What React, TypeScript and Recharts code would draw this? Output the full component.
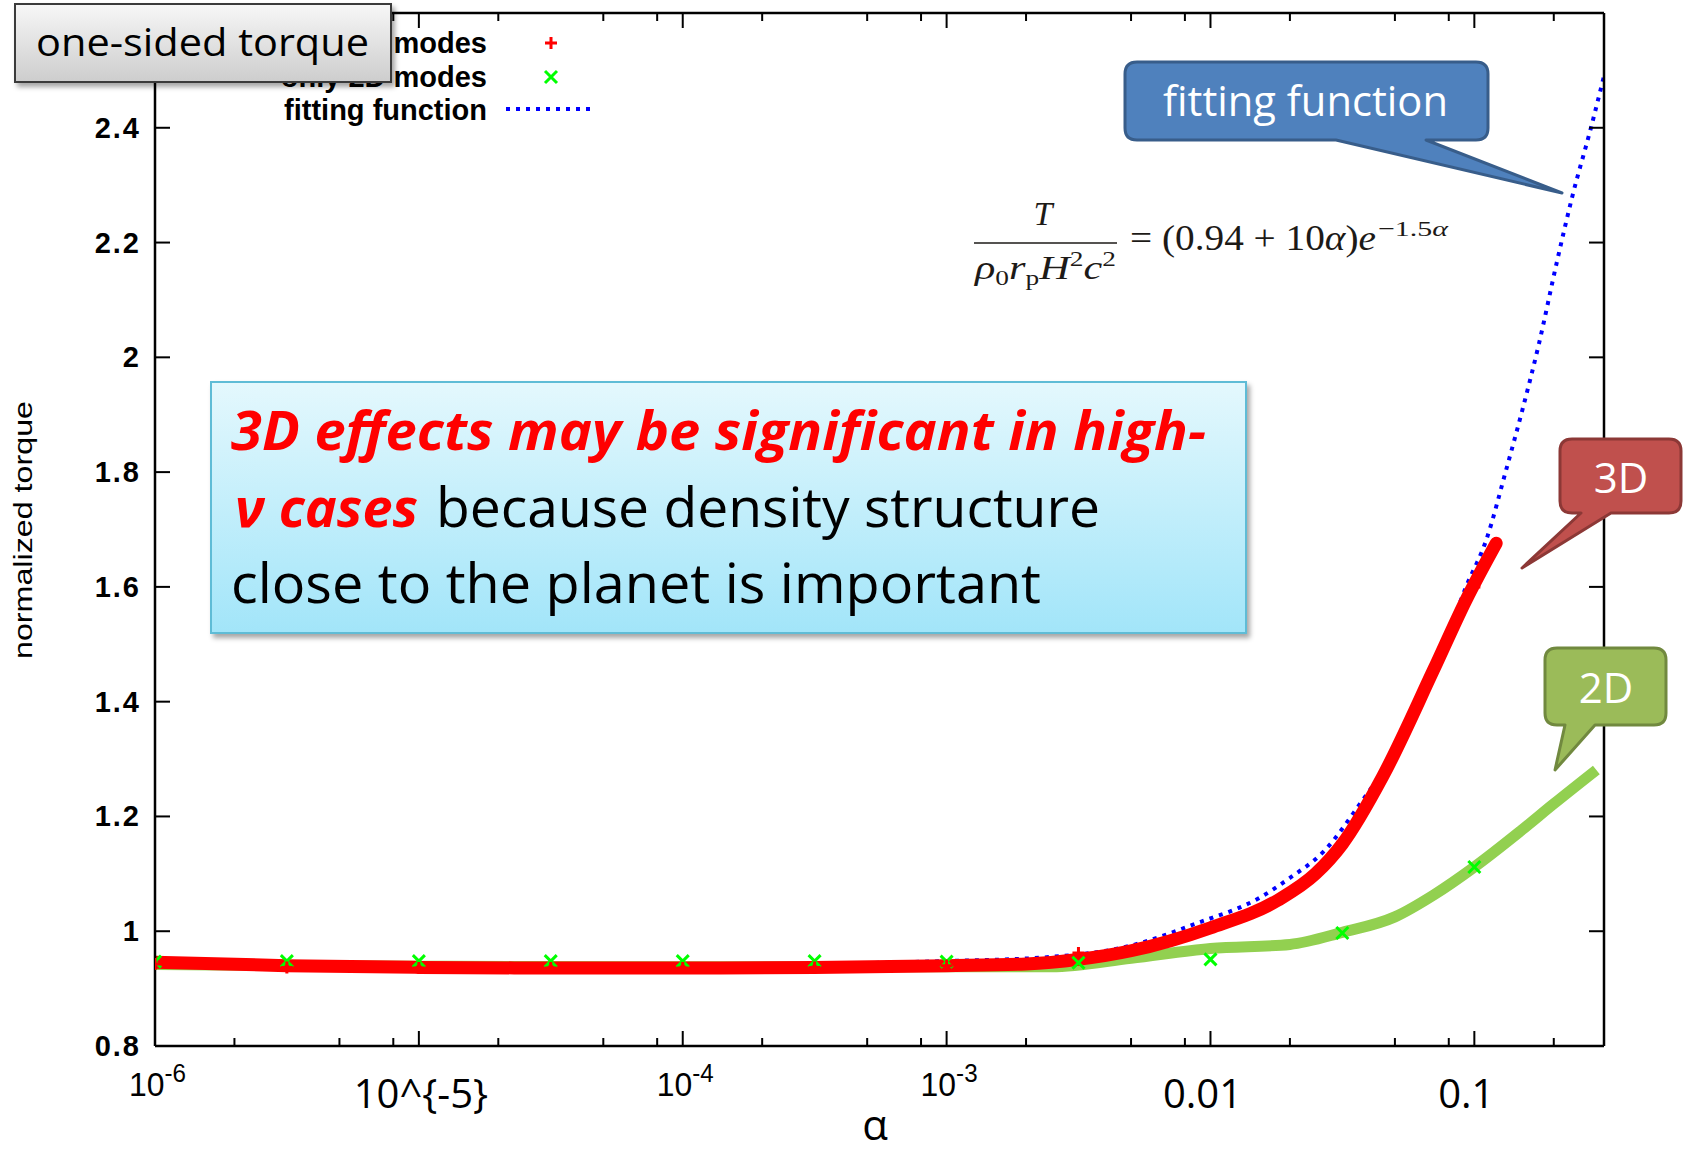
import React from "react";
import { ComposedChart, Line, Scatter, XAxis, YAxis } from "recharts";

// one-sided torque vs. alpha, 3D vs 2D runs plus the fitting function

const FONT_GP = "'Liberation Sans', Arial, sans-serif";
const FONT_PPT = "'Open Sans', 'Noto Sans', sans-serif";
const FONT_SERIF = "'Liberation Serif', 'DejaVu Serif', serif";

// thick hand-drawn style curves
const alpha3D = [1e-6, 3.16e-6, 1e-5, 3.16e-5, 1e-4, 3.16e-4, 1e-3, 2e-3, 3.16e-3, 5e-3, 1e-2, 1.8e-2, 2.5e-2, 3.16e-2, 4.5e-2, 7e-2, 9.3e-2, 0.121];
const torque3D = [0.946, 0.94, 0.937, 0.936, 0.936, 0.937, 0.94, 0.943, 0.951, 0.966, 1.006, 1.054, 1.1, 1.152, 1.27, 1.455, 1.577, 1.676];

const alpha2D = [1e-6, 1e-5, 1e-4, 1e-3, 2.5e-3, 5e-3, 1e-2, 2e-2, 3.16e-2, 5e-2, 7e-2, 0.1, 0.15, 0.2, 0.29];
const torque2D = [0.942, 0.939, 0.938, 0.938, 0.938, 0.953, 0.97, 0.977, 0.998, 1.025, 1.063, 1.112, 1.175, 1.222, 1.281];

// fitting function (blue dots)
const alphaFit = [1e-6, 1e-4, 1e-3, 2.45e-3, 4.9e-3, 8.9e-3, 1.53e-2, 2e-2, 2.7e-2, 3.7e-2, 4.6e-2, 7.8e-2, 9.3e-2, 0.111, 0.132, 0.152, 0.176, 0.205, 0.235, 0.277, 0.31];
const torqueFit = [0.94, 0.941, 0.948, 0.955, 0.974, 1.014, 1.058, 1.093, 1.14, 1.223, 1.286, 1.507, 1.6, 1.682, 1.804, 1.908, 2.025, 2.164, 2.28, 2.401, 2.49];

// simulation points (markers)
const alphaPts = [1e-6, 3.16e-6, 1e-5, 3.16e-5, 1e-4, 3.16e-4, 1e-3, 3.16e-3, 1e-2, 3.16e-2, 0.1];
const pts3D = [0.943, 0.937, 0.936, 0.936, 0.936, 0.937, 0.94, 0.962, 1.006, 1.155, 1.6];
const pts2D = [0.947, 0.948, 0.948, 0.948, 0.948, 0.948, 0.947, 0.945, 0.951, 0.997, 1.112];

const xMajor = [1e-6, 1e-5, 1e-4, 1e-3, 1e-2, 1e-1];
const xMinor = [2e-6, 5e-6, 8e-6, 2e-5, 5e-5, 8e-5, 2e-4, 5e-4, 8e-4, 2e-3, 5e-3, 8e-3, 2e-2, 5e-2, 8e-2, 2e-1];
const xTickLabels = [
  { base: "10", sup: "-6" },
  { text: "10^{-5}" },
  { base: "10", sup: "-4" },
  { base: "10", sup: "-3" },
  { text: "0.01" },
  { text: "0.1" },
];
const yTicks = [0.8, 1, 1.2, 1.4, 1.6, 1.8, 2, 2.2, 2.4, 2.6];
const yTickLabels = ["0.8", "1", "1.2", "1.4", "1.6", "1.8", "2", "2.2", "2.4", "2.6"];

const zip = (xs: number[], ys: number[]) => xs.map((a, i) => ({ a, v: ys[i] }));
const data3D = zip(alpha3D, torque3D);
const data2D = zip(alpha2D, torque2D);
const dataFit = zip(alphaFit, torqueFit);
const markers3D = zip(alphaPts, pts3D);
const markers2D = zip(alphaPts, pts2D);
const xTicks = [...xMajor, ...xMinor].sort((p, q) => p - q);

const majorIndex = (v: number) => xMajor.findIndex((m) => Math.abs(Math.log10(m) - Math.log10(v)) < 1e-6);

const BottomTick = (props: any) => {
  const { x, y, payload } = props;
  const idx = majorIndex(payload.value);
  const len = idx >= 0 ? 15 : 8;
  const lab = idx >= 0 ? xTickLabels[idx] : null;
  return (
    <g>
      <line x1={x} y1={y} x2={x} y2={y - len} stroke="#000" strokeWidth={2} />
      {lab && lab.base && (
        <text x={x - 26} y={1096} fontFamily={FONT_GP} fontSize={33} fill="#000" textLength={57} lengthAdjust="spacingAndGlyphs">
          {lab.base}
          <tspan fontSize={25} dy={-14}>{lab.sup}</tspan>
        </text>
      )}
      {lab && lab.text && (
        <text x={idx === 1 ? x + 2 : x - 8} y={1108} fontFamily={FONT_PPT} fontSize={40} textAnchor="middle" fill="#000">
          {lab.text}
        </text>
      )}
    </g>
  );
};

const TopTick = (props: any) => {
  const { x, y, payload } = props;
  const len = majorIndex(payload.value) >= 0 ? 15 : 8;
  return <line x1={x} y1={y} x2={x} y2={y + len} stroke="#000" strokeWidth={2} />;
};

const LeftTick = (props: any) => {
  const { x, y, payload, index } = props;
  return (
    <g>
      <line x1={x} y1={y} x2={x + 15} y2={y} stroke="#000" strokeWidth={2} />
      <text x={x - 14} y={y + 10} textAnchor="end" fontFamily={FONT_GP} fontWeight={700} fontSize={29} letterSpacing={2} fill="#000">
        {yTickLabels[index] ?? String(payload.value)}
      </text>
    </g>
  );
};

const RightTick = (props: any) => {
  const { x, y } = props;
  return <line x1={x} y1={y} x2={x - 15} y2={y} stroke="#000" strokeWidth={2} />;
};

const RedPlus = (props: any) => {
  const { cx, cy } = props;
  return <path d={`M${cx - 6},${cy}H${cx + 6}M${cx},${cy - 6}V${cy + 6}`} stroke="#ff0000" strokeWidth={3} fill="none" />;
};

const GreenCross = (props: any) => {
  const { cx, cy } = props;
  return <path d={`M${cx - 6},${cy - 6}L${cx + 6},${cy + 6}M${cx + 6},${cy - 6}L${cx - 6},${cy + 6}`} stroke="#00ff00" strokeWidth={3} fill="none" />;
};

function callout(x0: number, y0: number, x1: number, y1: number, r: number, xa: number, xb: number, tx: number, ty: number) {
  return `M${x0 + r},${y0} H${x1 - r} Q${x1},${y0} ${x1},${y0 + r} V${y1 - r} Q${x1},${y1} ${x1 - r},${y1} H${xb} L${tx},${ty} L${xa},${y1} H${x0 + r} Q${x0},${y1} ${x0},${y1 - r} V${y0 + r} Q${x0},${y0} ${x0 + r},${y0} Z`;
}

function Overlay() {
  return (
    <svg width={1688} height={1154} style={{ position: "absolute", left: 0, top: 0, pointerEvents: "none" }}>
      <defs>
        <filter id="shadow" x="-10%" y="-10%" width="130%" height="140%">
          <feDropShadow dx={3} dy={4} stdDeviation={2.5} floodColor="#000" floodOpacity={0.35} />
        </filter>
        <linearGradient id="grayGrad" x1="0" y1="0" x2="0" y2="1">
          <stop offset="0" stopColor="#f7f7f7" />
          <stop offset="1" stopColor="#cdcdcd" />
        </linearGradient>
        <linearGradient id="cyanGrad" x1="0" y1="0" x2="0" y2="1">
          <stop offset="0" stopColor="#e4f8fd" />
          <stop offset="1" stopColor="#a2e5f9" />
        </linearGradient>
      </defs>

      {/* legend */}
      <g fontFamily={FONT_GP} fontWeight={700} fontSize={29} fill="#000" textAnchor="end">
        <text x={487} y={53}>all modes</text>
        <text x={487} y={87}>only 2D modes</text>
        <text x={487} y={120}>fitting function</text>
      </g>
      <path d="M545,43H557M551,37V49" stroke="#ff0000" strokeWidth={3} />
      <path d="M545,71L557,83M557,71L545,83" stroke="#00ff00" strokeWidth={3} />
      <line x1={506} y1={109} x2={594} y2={109} stroke="#0000ff" strokeWidth={4} strokeDasharray="4 6" />

      {/* axis titles */}
      <text x={875} y={1140} textAnchor="middle" fontFamily={FONT_PPT} fontSize={42} fill="#000">α</text>
      <text
        transform="translate(32,530) rotate(-90)"
        textAnchor="middle"
        fontFamily={FONT_GP}
        fontSize={26}
        textLength={258}
        lengthAdjust="spacingAndGlyphs"
        fill="#000"
      >
        normalized torque
      </text>

      {/* formula */}
      <g fontFamily={FONT_SERIF} fill="#1d1a17">
        <text x={1043} y={225} fontSize={34} fontStyle="italic" textAnchor="middle">T</text>
        <line x1={974} y1={243} x2={1117} y2={243} stroke="#1d1a17" strokeWidth={1.6} />
        <text x={975} y={279} fontSize={34} textLength={141} lengthAdjust="spacingAndGlyphs">
          <tspan fontStyle="italic">ρ</tspan>
          <tspan fontSize={22} dy={6}>0</tspan>
          <tspan fontStyle="italic" dy={-6}>r</tspan>
          <tspan fontSize={22} dy={6}>p</tspan>
          <tspan fontStyle="italic" dy={-6}>H</tspan>
          <tspan fontSize={22} dy={-13}>2</tspan>
          <tspan fontStyle="italic" dy={13}>c</tspan>
          <tspan fontSize={22} dy={-13}>2</tspan>
        </text>
        <text x={1130} y={250} fontSize={35} textLength={246} lengthAdjust="spacingAndGlyphs">
          = (0.94 + 10<tspan fontStyle="italic">α</tspan>)<tspan fontStyle="italic">e</tspan>
        </text>
        <text x={1378} y={236} fontSize={22} textLength={70} lengthAdjust="spacingAndGlyphs">
          −1.5<tspan fontStyle="italic">α</tspan>
        </text>
      </g>

      {/* one-sided torque label */}
      <g filter="url(#shadow)">
        <rect x={15} y={4} width={376} height={78} fill="url(#grayGrad)" stroke="#3a3a3a" strokeWidth={2} />
      </g>
      <text x={36} y={56} fontFamily={FONT_PPT} fontSize={39} textLength={333} lengthAdjust="spacingAndGlyphs" fill="#000">
        one-sided torque
      </text>

      {/* main note */}
      <g filter="url(#shadow)">
        <rect x={211} y={382} width={1035} height={251} fill="url(#cyanGrad)" stroke="#5fbcd6" strokeWidth={2} />
      </g>
      <g fontFamily={FONT_PPT} fontSize={54}>
        <text x={231} y={450} fontWeight={700} fontStyle="italic" fill="#ff0000" textLength={975} lengthAdjust="spacingAndGlyphs">
          3D effects may be significant in high-
        </text>
        <text x={235} y={527} fontWeight={700} fontStyle="italic" fill="#ff0000" textLength={183} lengthAdjust="spacingAndGlyphs">
          ν cases
        </text>
        <text x={436} y={527} fill="#000" textLength={664} lengthAdjust="spacingAndGlyphs">
          because density structure
        </text>
        <text x={231} y={603} fill="#000" textLength={810} lengthAdjust="spacingAndGlyphs">
          close to the planet is important
        </text>
      </g>

      {/* callouts */}
      <path d={callout(1125, 62, 1488, 140, 12, 1336, 1426, 1562, 193)} fill="#4f81bd" stroke="#385d8a" strokeWidth={3} strokeLinejoin="round" />
      <text x={1163} y={116} fontFamily={FONT_PPT} fontSize={42} fill="#fff" textLength={285} lengthAdjust="spacingAndGlyphs">
        fitting function
      </text>

      <path d={callout(1560, 439, 1681, 513, 12, 1581, 1611, 1522, 568)} fill="#c0504d" stroke="#8c3836" strokeWidth={3} strokeLinejoin="round" />
      <text x={1621} y={493} textAnchor="middle" fontFamily={FONT_PPT} fontSize={42} fill="#fff">3D</text>

      <path d={callout(1545, 648, 1666, 725, 12, 1565, 1595, 1555, 770)} fill="#9bbb59" stroke="#71893f" strokeWidth={3} strokeLinejoin="round" />
      <text x={1606} y={703} textAnchor="middle" fontFamily={FONT_PPT} fontSize={42} fill="#fff">2D</text>
    </svg>
  );
}

export default function App() {
  const xDomain: [number, number] = [1e-6, 0.31];
  const yDomain: [number, number] = [0.8, 2.6];
  const axisLine = { stroke: "#000", strokeWidth: 2.5 };
  return (
    <div style={{ position: "absolute", left: 0, top: 0, width: 1688, height: 1154, background: "#fff", overflow: "hidden" }}>
      <ComposedChart width={1688} height={1154} margin={{ top: 12, right: 83, bottom: 107, left: 154 }}>
        <XAxis xAxisId="b" dataKey="a" type="number" scale="log" domain={xDomain} allowDataOverflow ticks={xTicks} interval={0}
          height={1} tickSize={0} tickMargin={0} tickLine={false} axisLine={axisLine} tick={BottomTick} />
        <XAxis xAxisId="t" orientation="top" dataKey="a" type="number" scale="log" domain={xDomain} allowDataOverflow ticks={xTicks} interval={0}
          height={1} tickSize={0} tickMargin={0} tickLine={false} axisLine={axisLine} tick={TopTick} />
        <YAxis yAxisId="l" type="number" domain={yDomain} allowDataOverflow ticks={yTicks} interval={0}
          width={1} tickSize={0} tickMargin={0} tickLine={false} axisLine={axisLine} tick={LeftTick} />
        <YAxis yAxisId="r" orientation="right" type="number" domain={yDomain} allowDataOverflow ticks={yTicks} interval={0}
          width={1} tickSize={0} tickMargin={0} tickLine={false} axisLine={axisLine} tick={RightTick} />

        <Scatter xAxisId="b" yAxisId="l" data={markers2D} dataKey="v" shape={GreenCross} isAnimationActive={false} />
        <Scatter xAxisId="b" yAxisId="l" data={markers3D} dataKey="v" shape={RedPlus} isAnimationActive={false} />
        <Line xAxisId="b" yAxisId="l" data={data2D} dataKey="v" type="monotone" stroke="#92d050" strokeWidth={11}
          dot={false} isAnimationActive={false} />
        <Line xAxisId="t" yAxisId="r" data={dataFit} dataKey="v" type="monotone" stroke="#0000ff" strokeWidth={4}
          strokeDasharray="4 6" dot={false} isAnimationActive={false} />
        <Line xAxisId="b" yAxisId="l" data={data3D} dataKey="v" type="monotone" stroke="#ff0000" strokeWidth={13}
          strokeLinecap="round" dot={false} isAnimationActive={false} />
      </ComposedChart>
      <Overlay />
    </div>
  );
}
